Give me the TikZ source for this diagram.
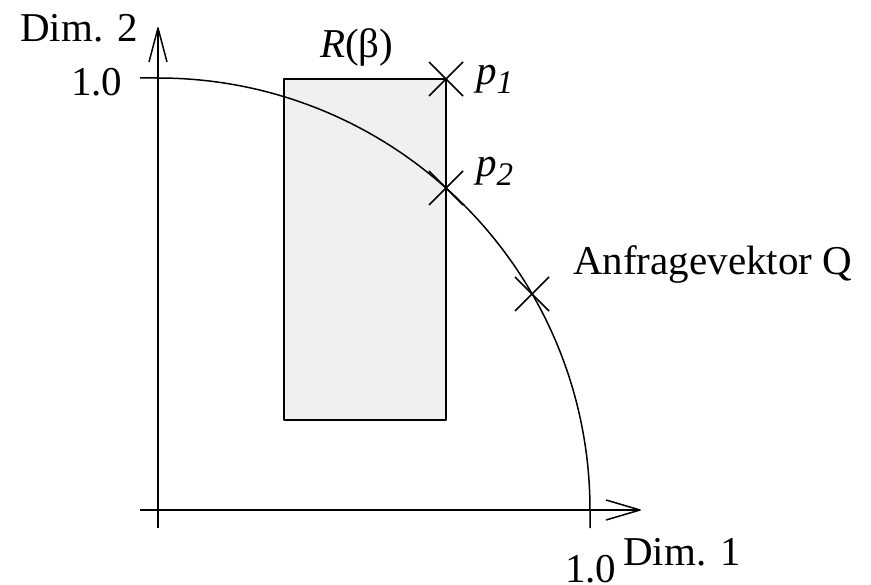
\documentclass[tikz,border=0pt]{standalone}
\usepackage{fontspec}
\setmainfont{Liberation Serif}
\usetikzlibrary{calc}
\definecolor{boxfill}{HTML}{F0F0F0}
\tikzset{
  ln/.style={line width=1.5pt, line join=round, line cap=butt},
  lbl/.style={inner sep=0pt, anchor=base west, font=\fontsize{41}{48}\selectfont},
}
\newcommand{\sbs}[1]{\raisebox{-9pt}{\fontsize{33}{33}\selectfont\textit{#1}}}
\begin{document}
\begin{tikzpicture}[x=1pt,y=-1pt]
\useasboundingbox (0,0) rectangle (871,585);
% rectangle R(beta)
\draw[ln, fill=boxfill] (284,79) rectangle (446,420);
% axes
\coordinate (O) at (158,510);
\coordinate (Ytip) at (158,28);
\coordinate (Xtip) at (640,510);
\draw[ln] (158,528) -- (Ytip);
\draw[ln] (149,62) -- (Ytip) -- (167,62);
\draw[ln] (140,510) -- (Xtip);
\draw[ln] (606,500) -- (Xtip) -- (606,520);
% ticks and quarter circle
\draw[ln] (140,78) -- (158,78) arc[start angle=-90, end angle=0, radius=432] -- (590,528);
% crosses
\coordinate (c1) at (446,79);
\coordinate (c2) at (446,188);
\coordinate (cq) at (532,294);
\foreach \n in {c1,c2,cq}{
  \draw[ln] ($(\n)+(-17,-17)$) -- ($(\n)+(17,17)$);
  \draw[ln] ($(\n)+(-17,17)$) -- ($(\n)+(17,-17)$);
}
% labels
\node[lbl] (dim2) at (20,42) {Dim. 2};
\node[lbl] (one2) at (71,96) {1.0};
\node[lbl] (rb) at (320,58) {\textit{R}(β)};
\node[lbl] (p1) at (476,85) {\textit{p}\sbs{1}};
\node[lbl] (p2) at (476,177) {\textit{p}\sbs{2}};
\node[lbl] (q) at (573,275) {Anfragevektor Q};
\node[lbl] (one1) at (565,582) {1.0};
\node[lbl] (dim1) at (623,565) {Dim. 1};
\end{tikzpicture}
\end{document}
